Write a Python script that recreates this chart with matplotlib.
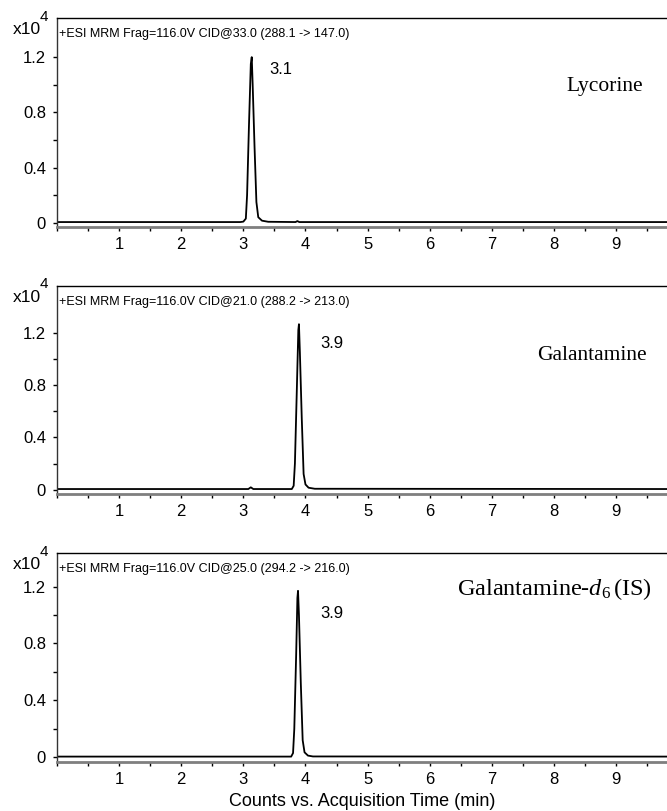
import matplotlib
matplotlib.use("Agg")
import matplotlib.pyplot as plt
from matplotlib.ticker import MultipleLocator, FixedLocator

plt.rcParams['font.family'] = ['Liberation Sans', 'DejaVu Sans']
plt.rcParams['mathtext.fontset'] = 'custom'
plt.rcParams['mathtext.rm'] = 'Liberation Serif'
plt.rcParams['mathtext.it'] = 'Liberation Serif:italic'

# ---- data, intensities in x10^4 counts ----
t_lyc = [0.0, 2.95, 3.00, 3.04, 3.06, 3.09, 3.12, 3.135, 3.15, 3.18, 3.21, 3.24, 3.30, 3.40,
         3.84, 3.87, 3.90, 9.82]
i_lyc = [0.005, 0.005, 0.008, 0.03, 0.20, 0.70, 1.15, 1.20, 1.00, 0.55, 0.15, 0.04, 0.015, 0.007,
         0.005, 0.012, 0.005, 0.005]

t_gal = [0.0, 3.08, 3.12, 3.16, 3.78, 3.81, 3.83, 3.86, 3.885, 3.895, 3.91, 3.94, 3.97, 4.00,
         4.05, 4.15, 9.82]
i_gal = [0.005, 0.005, 0.018, 0.005, 0.005, 0.03, 0.20, 0.75, 1.22, 1.265, 1.05, 0.55, 0.12, 0.04,
         0.015, 0.007, 0.005]

t_is = [0.0, 3.77, 3.80, 3.82, 3.85, 3.87, 3.88, 3.895, 3.925, 3.955, 3.985, 4.04, 4.12, 9.82]
i_is = [0.005, 0.005, 0.03, 0.20, 0.72, 1.12, 1.17, 1.00, 0.52, 0.12, 0.035, 0.012, 0.006, 0.005]

headers = ["+ESI MRM Frag=116.0V CID@33.0 (288.1 -> 147.0)",
           "+ESI MRM Frag=116.0V CID@21.0 (288.2 -> 213.0)",
           "+ESI MRM Frag=116.0V CID@25.0 (294.2 -> 216.0)"]
peak_labels = ["3.1", "3.9", "3.9"]
compounds = ["Lycorine", "Galantamine", r"Galantamine-$d_{\mathit{6}}\,$(IS)"]
y_tops = [1.481, 1.557, 1.434]
xticks = [1, 2, 3, 4, 5, 6, 7, 8, 9]
yticks = [0, 0.4, 0.8, 1.2]
xlabel = "Counts vs. Acquisition Time (min)"

traces = [(t_lyc, i_lyc), (t_gal, i_gal), (t_is, i_is)]

W, H = 667, 811
fig = plt.figure(figsize=(W / 100, H / 100), dpi=100)

# axes boxes in pixels (top, bottom)
boxes = [(18.3, 227.3), (286.0, 494.0), (553.3, 762.0)]
left_px = 57.0
peak_lab_pos = [(269, 70), (320, 343), (320, 613)]
comp_pos = [(643, 87), (647, 355), (652, 589)]
comp_sizes = [15.5, 15.5, 17.5]

for k, ((top, bot), (t, inten)) in enumerate(zip(boxes, traces)):
    ax = fig.add_axes([left_px / W, 1 - bot / H, 1 - left_px / W, (bot - top) / H])
    ax.plot(t, inten, color='black', lw=1.3)
    ax.set_xlim(0, 9.82)
    ax.set_ylim(-0.033, y_tops[k])
    ax.spines['right'].set_visible(False)
    ax.spines['top'].set_color('black')
    ax.spines['top'].set_linewidth(1.0)
    ax.spines['left'].set_color('#333333')
    ax.spines['left'].set_linewidth(1.0)
    ax.spines['bottom'].set_color('#7f7f7f')
    ax.spines['bottom'].set_linewidth(2.0)
    ax.xaxis.set_major_locator(FixedLocator(xticks))
    ax.xaxis.set_minor_locator(MultipleLocator(0.5))
    ax.yaxis.set_major_locator(FixedLocator(yticks))
    ax.yaxis.set_minor_locator(FixedLocator([0.2, 0.6, 1.0]))
    ax.set_xticklabels([str(v) for v in xticks])
    ax.set_yticklabels(["0", "0.4", "0.8", "1.2"])
    ax.tick_params(axis='x', which='both', direction='out', length=3, width=1,
                   color='black', labelsize=12, pad=4)
    ax.tick_params(axis='y', which='both', direction='out', length=3, width=1,
                   color='black', labelsize=12, pad=5)
    # header inside
    fig.text(59 / W, 1 - (top + 15.5) / H, headers[k], fontsize=9, ha='left', va='center')
    # x10^4
    fig.text(13 / W, 1 - (top + 11.5) / H, "x10", fontsize=12.5, ha='left', va='center')
    fig.text(39.5 / W, 1 - (top - 1.5) / H, "4", fontsize=11, ha='left', va='center')
    # peak label
    px, py = peak_lab_pos[k]
    fig.text(px / W, 1 - py / H, peak_labels[k], fontsize=12, ha='left', va='center')
    cx, cy = comp_pos[k]
    fig.text(cx / W, 1 - cy / H, compounds[k], fontsize=comp_sizes[k], ha='right', va='center',
             family='Liberation Serif')

fig.text((57 + 667) / 2 / W, 1 - 801 / H, xlabel, fontsize=13, ha='center', va='center')

fig.savefig("out.png", dpi=100)
